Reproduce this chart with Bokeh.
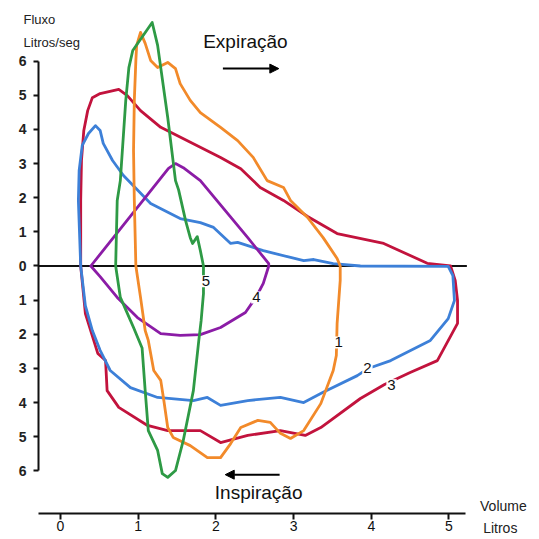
from bokeh.plotting import figure
from bokeh.models import Range1d, FixedTicker, Label, Arrow, NormalHead
from bokeh.embed import file_html
from bokeh.resources import INLINE

# ---------------- data (volume in litres, flow in litres/s) ----------------
X_TICKS = [0, 1, 2, 3, 4, 5]
Y_TICKS = [-6, -5, -4, -3, -2, -1, 0, 1, 2, 3, 4, 5, 6]
Y_TICK_LABELS = {t: str(abs(t)) for t in Y_TICKS}

# curve 1 (orange)
vol_1 = [0.97, 0.95, 0.94, 0.95, 0.97, 0.98, 1.03, 1.09, 1.16, 1.25, 1.38, 1.48, 1.54, 1.67,
         1.80, 2.06, 2.28, 2.48, 2.66, 2.87, 2.96, 3.18, 3.38, 3.56, 3.60,
         3.60, 3.56, 3.55, 3.51, 3.35, 3.13, 2.96, 2.83, 2.70, 2.54, 2.32, 2.19, 2.06, 1.89,
         1.67, 1.45, 1.38, 1.33, 1.29, 1.20, 1.13, 1.09, 1.03, 0.97]
flow_1 = [0.0, 1.92, 3.38, 4.85, 6.02, 6.46, 6.84, 6.52, 6.02, 5.81, 5.96, 5.78, 5.34, 4.85,
          4.49, 4.06, 3.67, 3.18, 2.50, 2.30, 1.92, 1.42, 0.83, 0.22, 0.0,
          -0.42, -1.68, -2.62, -3.06, -4.03, -4.82, -5.05, -4.90, -4.58, -4.52, -4.73, -5.20, -5.61, -5.61,
          -5.26, -5.02, -4.73, -3.94, -3.35, -3.06, -2.18, -1.89, -0.92, 0.0]

# curve 2 (blue)
vol_2 = [0.26, 0.23, 0.24, 0.28, 0.36, 0.45, 0.51, 0.55, 0.67, 0.81, 1.16, 1.54, 1.80, 1.97,
         2.19, 2.28, 2.61, 2.96, 3.13, 3.26, 3.51, 3.86, 4.99,
         5.05, 5.07, 4.99, 4.76, 4.25, 3.96, 3.82, 3.38, 3.13, 2.83, 2.41, 2.06, 1.89, 1.71,
         1.25, 0.90, 0.64, 0.51, 0.41, 0.32, 0.26]
flow_2 = [0.0, 1.92, 2.80, 3.53, 3.88, 4.11, 3.97, 3.59, 3.09, 2.65, 1.83, 1.39, 1.27, 1.13,
          0.66, 0.69, 0.45, 0.25, 0.16, 0.19, 0.07, 0.0, -0.01,
          -0.28, -1.01, -1.54, -2.18, -2.77, -3.00, -3.21, -3.70, -4.00, -3.85, -3.94, -4.08, -3.85, -3.94,
          -3.85, -3.56, -3.06, -2.47, -1.89, -1.16, 0.0]

# curve 3 (crimson)
vol_3 = [0.26, 0.26, 0.27, 0.30, 0.35, 0.41, 0.51, 0.75, 0.86, 1.03, 1.29, 1.71, 2.06, 2.32,
         2.57, 2.87, 3.18, 3.56, 4.16, 4.72, 5.02,
         5.08, 5.11, 5.11, 4.85, 4.50, 4.17, 3.86, 3.35, 3.15, 2.83, 2.41, 2.06, 1.80, 1.38,
         1.12, 0.75, 0.60, 0.58, 0.48, 0.32, 0.26]
flow_3 = [0.0, 1.92, 3.09, 3.97, 4.55, 4.93, 5.05, 5.17, 4.99, 4.55, 4.06, 3.58, 3.18, 2.85,
          2.30, 1.92, 1.45, 0.95, 0.66, 0.08, 0.0,
          -0.42, -1.01, -1.68, -2.77, -3.12, -3.47, -3.88, -4.73, -4.96, -4.82, -4.96, -5.17, -4.82, -4.82,
          -4.67, -4.14, -3.65, -2.77, -2.56, -1.39, 0.0]

# curve 4 (purple)
vol_4 = [0.39, 1.39, 1.48, 1.58, 1.80, 2.41, 2.68, 2.68, 2.61, 2.52, 2.38, 2.06, 1.80, 1.54,
         1.29, 0.99, 0.73, 0.51, 0.39]
flow_4 = [0.0, 2.86, 3.00, 2.88, 2.50, 0.83, 0.07, 0.0, -0.51, -0.90, -1.36, -1.80, -2.01, -2.03,
          -1.98, -1.51, -0.92, -0.31, 0.0]

# curve 5 (green)
vol_5 = [0.71, 0.73, 0.77, 0.84, 0.88, 0.93, 1.18, 1.25, 1.38, 1.48, 1.52, 1.61, 1.67, 1.70,
         1.76, 1.80, 1.84,
         1.84, 1.81, 1.78, 1.71, 1.58, 1.48, 1.38, 1.31, 1.25, 1.13, 1.09, 1.05, 0.94, 0.77, 0.71]
flow_5 = [0.0, 1.92, 2.50, 4.85, 5.81, 6.31, 7.13, 6.46, 4.35, 2.50, 2.23, 1.33, 0.83, 0.66,
          0.86, 0.45, 0.0,
          -0.81, -1.60, -2.18, -3.65, -5.11, -5.99, -6.19, -6.08, -5.40, -4.82, -3.65, -2.40, -1.80, -0.92, 0.0]

CURVE_NAMES = ["1", "2", "3", "4", "5"]
LABEL_VOL = [3.58, 3.95, 4.26, 2.52, 1.87]
LABEL_FLOW = [-2.24, -3.00, -3.49, -0.92, -0.45]

ZERO_LINE_VOL = [-0.28, 5.23]
ZERO_LINE_FLOW = [0.0, 0.0]

# ---------------- figure ----------------
FONT = "Liberation Sans"
p = figure(width=531, height=538,
           x_range=Range1d(-0.7722, 6.0618), y_range=Range1d(-7.9795, 7.7745),
           output_backend="svg", toolbar_location=None,
           min_border_left=0, min_border_right=0, min_border_top=0, min_border_bottom=0)
p.grid.visible = False
p.outline_line_color = None

xa = p.xaxis[0]
xa.fixed_location = -7.2386
xa.ticker = FixedTicker(ticks=X_TICKS)
xa.bounds = (-0.28, 5.21)
xa.axis_line_width = 2
xa.axis_line_color = "#111111"
xa.major_tick_line_width = 2
xa.major_tick_line_color = "#111111"
xa.major_tick_out = 6
xa.major_tick_in = 0
xa.minor_tick_line_color = None
xa.major_label_standoff = 2
xa.major_label_text_font = FONT
xa.major_label_text_font_size = "14px"
xa.major_label_text_color = "#111111"

ya = p.yaxis[0]
ya.fixed_location = -0.2831
ya.ticker = FixedTicker(ticks=Y_TICKS)
ya.major_label_overrides = Y_TICK_LABELS
ya.bounds = (-6, 6)
ya.axis_line_width = 2
ya.axis_line_color = "#111111"
ya.major_tick_line_width = 2
ya.major_tick_line_color = "#111111"
ya.major_tick_out = 5
ya.major_tick_in = 0
ya.minor_tick_line_color = None
ya.major_label_standoff = 7
ya.major_label_text_font = FONT
ya.major_label_text_font_size = "14px"
ya.major_label_text_font_style = "bold"
ya.major_label_text_color = "#222222"

# zero line
p.line(ZERO_LINE_VOL, ZERO_LINE_FLOW, line_color="#111111", line_width=2)

COLORS = ["#F28A2A", "#3D80D8", "#C2133D", "#8B1CA6", "#2E9A45"]
ALL_VOL = [vol_1, vol_2, vol_3, vol_4, vol_5]
ALL_FLOW = [flow_1, flow_2, flow_3, flow_4, flow_5]
draw_order = [2, 1, 3, 0, 4]
for i in draw_order:
    p.line(ALL_VOL[i], ALL_FLOW[i], line_color=COLORS[i], line_width=2.8,
           line_join="round", line_cap="round")

for name, lv, lf in zip(CURVE_NAMES, LABEL_VOL, LABEL_FLOW):
    p.add_layout(Label(x=lv, y=lf, text=name, text_align="center", text_baseline="middle",
                       text_font=FONT, text_font_size="15px", text_color="#111111",
                       background_fill_color="white", padding=1))

# direction arrows and captions
p.add_layout(Arrow(end=NormalHead(size=9, fill_color="black", line_color="black"),
                   x_start=2.09, y_start=5.78, x_end=2.81, y_end=5.78,
                   line_width=2, line_color="black"))
p.add_layout(Arrow(end=NormalHead(size=9, fill_color="black", line_color="black"),
                   x_start=2.82, y_start=-6.11, x_end=2.12, y_end=-6.11,
                   line_width=2, line_color="black"))
p.add_layout(Label(x=2.38, y=6.57, text="Expiração", text_align="center", text_baseline="middle",
                   text_font=FONT, text_font_size="19px", text_color="#111111"))
p.add_layout(Label(x=2.55, y=-6.62, text="Inspiração", text_align="center", text_baseline="middle",
                   text_font=FONT, text_font_size="19px", text_color="#111111"))

# axis captions
p.add_layout(Label(x=-0.476, y=7.22, text="Fluxo", text_align="left", text_baseline="middle",
                   text_font=FONT, text_font_size="13px", text_color="#222222"))
p.add_layout(Label(x=-0.476, y=6.55, text="Litros/seg", text_align="left", text_baseline="middle",
                   text_font=FONT, text_font_size="13px", text_color="#222222"))
p.add_layout(Label(x=5.70, y=-7.04, text="Volume", text_align="center", text_baseline="middle",
                   text_font=FONT, text_font_size="14px", text_color="#222222"))
p.add_layout(Label(x=5.66, y=-7.67, text="Litros", text_align="center", text_baseline="middle",
                   text_font=FONT, text_font_size="14px", text_color="#222222"))

open("out.html", "w").write(file_html(p, INLINE))
